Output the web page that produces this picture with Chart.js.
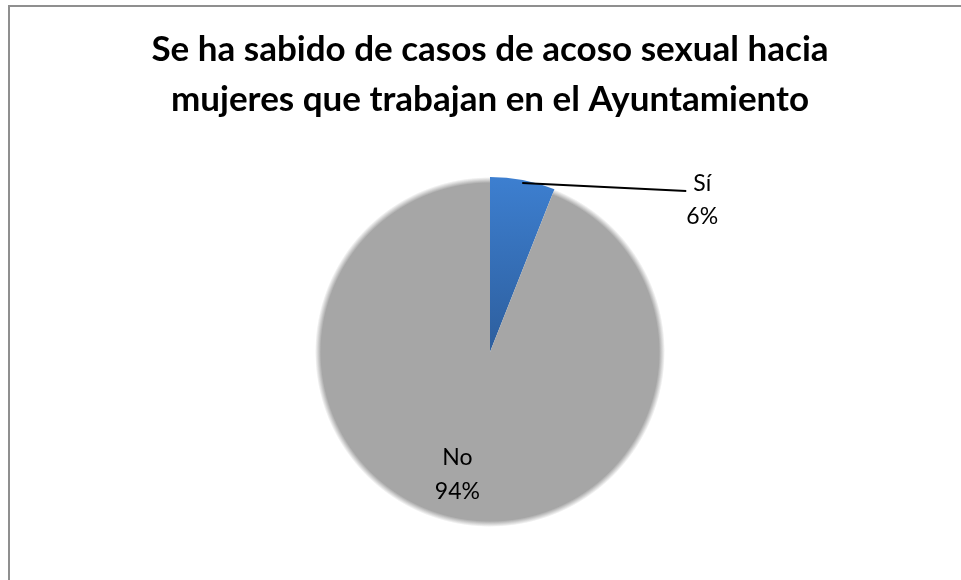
<!DOCTYPE html>
<html>
<head>
<meta charset="utf-8">
<script src="https://cdn.jsdelivr.net/npm/chart.js"></script>
<style>
  html, body { margin: 0; padding: 0; background: #fff; }
  #marco {
    position: absolute; left: 8px; top: 5px; width: 1000px; height: 700px;
    border-left: 2px solid #8f8f8f; border-top: 2px solid #8f8f8f;
  }
  #contenedor { position: absolute; left: 0; top: 0; width: 961px; height: 580px; }
</style>
</head>
<body>
<div id="marco"></div>
<div id="contenedor"><canvas id="graficoAcoso"></canvas></div>
<script>
const titulo = [
    'Se ha sabido de casos de acoso sexual hacia',
    'mujeres que trabajan en el Ayuntamiento'
];
const categorias = ['Sí', 'No'];
const porcentajes = [6, 94];

// azul con degradado para "Sí", gris con borde suave para "No"
function fondoSector(context) {
    const chart = context.chart;
    const area = chart.chartArea;
    if (!area) {
        return context.dataIndex === 0 ? '#3a78c4' : '#a6a6a6';
    }
    const c = chart.ctx;
    const cx = (area.left + area.right) / 2;
    const cy = (area.top + area.bottom) / 2;
    const r = Math.min(area.width, area.height) / 2;
    if (context.dataIndex === 0) {
        const g = c.createLinearGradient(cx, cy - r, cx, cy);
        g.addColorStop(0, '#3d7fd0');
        g.addColorStop(1, '#2d5e9d');
        return g;
    }
    const g = c.createRadialGradient(cx, cy, 0, cx, cy, r);
    g.addColorStop(0, '#a6a6a6');
    g.addColorStop((r - 6) / r, '#a6a6a6');
    g.addColorStop(1, 'rgba(166,166,166,0)');
    return g;
}

const etiquetas = {
    id: 'etiquetas',
    afterDatasetsDraw(chart) {
        const ctx = chart.ctx;
        const meta = chart.getDatasetMeta(0);
        const total = porcentajes.reduce((a, b) => a + b, 0);
        ctx.save();
        ctx.font = '23px Lato';
        ctx.fillStyle = '#000';
        ctx.textAlign = 'center';
        ctx.textBaseline = 'middle';
        meta.data.forEach((arc, i) => {
            const p = arc.getProps(['x', 'y', 'startAngle', 'endAngle', 'outerRadius'], true);
            const mid = (p.startAngle + p.endAngle) / 2;
            const frac = porcentajes[i] / total;
            const pct = Math.round(frac * 100) + '%';
            if (frac < 0.1) {
                // sector pequeño: etiqueta fuera con línea guía
                const px = p.x + Math.cos(mid) * (p.outerRadius - 3);
                const py = p.y + Math.sin(mid) * (p.outerRadius - 3);
                const ex = px + 164, ey = py + 8;
                ctx.beginPath();
                ctx.moveTo(px, py);
                ctx.lineTo(ex, ey);
                ctx.lineWidth = 2;
                ctx.strokeStyle = '#000';
                ctx.stroke();
                ctx.fillText(categorias[i], ex + 16, ey - 7);
                ctx.fillText(pct, ex + 16, ey + 26);
            } else {
                const d = p.outerRadius * 0.72;
                const lx = p.x + Math.cos(mid) * d - 9;
                const ly = p.y + Math.sin(mid) * d;
                ctx.fillText(categorias[i], lx, ly - 18);
                ctx.fillText(pct, lx, ly + 16);
            }
        });
        ctx.restore();
    }
};

const ctx = document.getElementById('graficoAcoso');
new Chart(ctx, {
    type: 'pie',
    data: {
        labels: categorias,
        datasets: [{
            data: porcentajes,
            backgroundColor: fondoSector,
            borderWidth: 0
        }]
    },
    options: {
        responsive: true,
        maintainAspectRatio: false,
        animation: false,
        events: [],
        layout: { padding: { left: 19, right: 0, top: 0, bottom: 53 } },
        plugins: {
            legend: { display: false },
            tooltip: { enabled: false },
            title: {
                display: true,
                text: titulo,
                color: '#000',
                font: { family: 'Lato', size: 35, weight: 'bold', lineHeight: 1.45 },
                padding: { top: 24, bottom: 51.5 }
            }
        }
    },
    plugins: [etiquetas]
});
</script>
</body>
</html>
